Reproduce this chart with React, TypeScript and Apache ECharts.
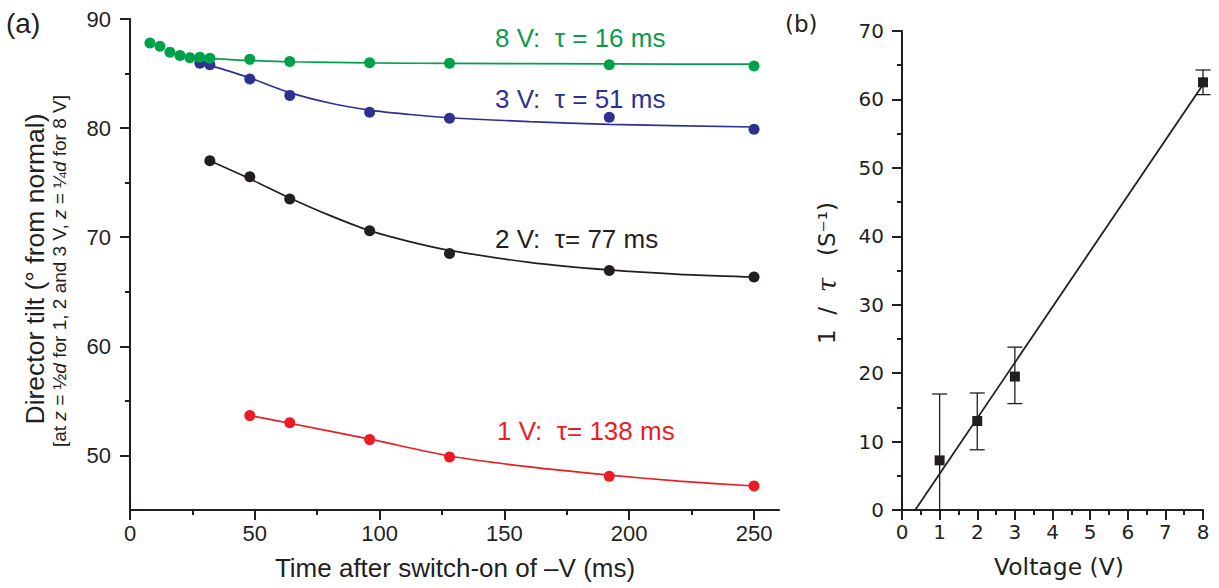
import React, { useEffect, useRef } from "react";
import * as echarts from "echarts";

// ---- Panel (a): director tilt vs time ----
const timeGreen = [8, 12, 16, 20, 24, 28, 32, 48, 64, 96, 128, 192, 250];
const tiltGreen = [87.8, 87.5, 86.95, 86.65, 86.45, 86.5, 86.4, 86.3, 86.1, 86.0, 85.95, 85.8, 85.7];
const timeBlue = [28, 32, 48, 64, 96, 128, 192, 250];
const tiltBlue = [85.95, 85.8, 84.5, 83.0, 81.45, 80.9, 81.0, 79.9];
const timeBlack = [32, 48, 64, 96, 128, 192, 250];
const tiltBlack = [77.0, 75.55, 73.5, 70.6, 68.5, 66.95, 66.35];
const timeRed = [48, 64, 96, 128, 192, 250];
const tiltRed = [53.65, 53.0, 51.45, 49.85, 48.1, 47.2];

// fitted curves
const fitTimeGreen = [28, 32, 40, 48, 64, 96, 128, 192, 250];
const fitTiltGreen = [86.55, 86.4, 86.28, 86.2, 86.08, 85.97, 85.93, 85.88, 85.86];
const fitTimeBlue = [28, 32, 40, 48, 64, 80, 96, 112, 128, 160, 192, 250];
const fitTiltBlue = [86.0, 85.75, 85.2, 84.6, 83.25, 82.3, 81.65, 81.25, 80.95, 80.6, 80.35, 80.1];
const fitTimeBlack = [32, 48, 64, 80, 96, 112, 128, 160, 192, 220, 250];
const fitTiltBlack = [77.0, 75.35, 73.6, 72.0, 70.6, 69.6, 68.8, 67.7, 67.0, 66.6, 66.35];
const fitTimeRed = [48, 64, 96, 128, 160, 192, 220, 250];
const fitTiltRed = [53.65, 52.95, 51.5, 49.95, 48.95, 48.2, 47.65, 47.2];

const xTicksA = [0, 50, 100, 150, 200, 250];
const xMinorA = [25, 75, 125, 175, 225];
const yTicksA = [50, 60, 70, 80, 90];
const yMinorA = [55, 65, 75, 85];

// ---- Panel (b): 1/tau vs voltage ----
const voltage = [1, 2, 3, 8];
const invTau = [7.25, 13.0, 19.5, 62.5];
const errLow = [0, 8.8, 15.55, 60.7];
const errHigh = [16.95, 17.1, 23.8, 64.3];
const fitVoltage = [0.35, 8.15];
const fitInvTau = [0, 63.4];

const INK = "#231f20";
const GREEN = "#00a14b";
const GREEN_TEXT = "#0c9a4c";
const BLUE = "#2e3192";
const RED = "#ec1c24";

const zip = (xs: number[], ys: number[]) => xs.map((x, i) => [x, ys[i]]);

const SANS = "Liberation Sans, Arial, sans-serif";
const VERD = "DejaVu Sans, Verdana, sans-serif";

export default function App() {
  const ref = useRef<HTMLDivElement>(null);
  useEffect(() => {
    if (!ref.current) return;
    const chart = echarts.init(ref.current, undefined, { renderer: "svg" });
    const axisLine = { show: true, lineStyle: { color: INK, width: 2 } };
    const tickStyle = { color: INK, width: 2 };
    const scatterA = (name: string, xs: number[], ys: number[], color: string, z: number) => ({
      name,
      type: "scatter",
      xAxisIndex: 0,
      yAxisIndex: 0,
      symbol: "circle",
      symbolSize: 11,
      itemStyle: { color, opacity: 1 },
      data: zip(xs, ys),
      z,
    });
    const fitA = (name: string, xs: number[], ys: number[], color: string) => ({
      name,
      type: "line",
      xAxisIndex: 0,
      yAxisIndex: 0,
      showSymbol: false,
      symbol: "none",
      smooth: 0.3,
      lineStyle: { color, width: 1.7 },
      data: zip(xs, ys),
      z: 3,
    });
    const option: any = {
      animation: false,
      backgroundColor: "#ffffff",
      grid: [
        { left: 130, top: 19, width: 649, height: 491 },
        { left: 902, top: 31, width: 301, height: 479 },
      ],
      xAxis: [
        {
          gridIndex: 0,
          type: "value",
          min: 0,
          max: 260,
          position: "bottom",
          axisLine,
          axisTick: { show: true, customValues: xTicksA, length: 10, lineStyle: tickStyle },
          axisLabel: { customValues: xTicksA, fontSize: 22, color: INK, margin: 12, fontFamily: SANS },
          splitLine: { show: false },
        },
        {
          gridIndex: 0,
          type: "value",
          min: 0,
          max: 260,
          position: "bottom",
          offset: 0,
          axisLine: { show: false },
          axisTick: { show: true, customValues: xMinorA, length: 5, lineStyle: tickStyle },
          axisLabel: { show: false },
          splitLine: { show: false },
        },
        {
          gridIndex: 1,
          type: "value",
          min: 0,
          max: 8,
          interval: 1,
          position: "bottom",
          axisLine,
          axisTick: { show: true, length: 10, lineStyle: tickStyle },
          minorTick: { show: true, splitNumber: 2, length: 5, lineStyle: tickStyle },
          axisLabel: { fontSize: 20, color: INK, margin: 12, fontFamily: VERD },
          splitLine: { show: false },
          minorSplitLine: { show: false },
        },
      ],
      yAxis: [
        {
          gridIndex: 0,
          type: "value",
          min: 45,
          max: 90,
          position: "left",
          axisLine,
          axisTick: { show: true, customValues: yTicksA, length: 10, lineStyle: tickStyle },
          axisLabel: { customValues: yTicksA, fontSize: 22, color: INK, margin: 19, fontFamily: SANS },
          splitLine: { show: false },
        },
        {
          gridIndex: 0,
          type: "value",
          min: 45,
          max: 90,
          position: "left",
          offset: 0,
          axisLine: { show: false },
          axisTick: { show: true, customValues: yMinorA, length: 5, lineStyle: tickStyle },
          axisLabel: { show: false },
          splitLine: { show: false },
        },
        {
          gridIndex: 1,
          type: "value",
          min: 0,
          max: 70,
          interval: 10,
          position: "left",
          axisLine,
          axisTick: { show: true, length: 10, lineStyle: tickStyle },
          minorTick: { show: true, splitNumber: 2, length: 5, lineStyle: tickStyle },
          axisLabel: { fontSize: 20, color: INK, margin: 18, fontFamily: VERD },
          splitLine: { show: false },
          minorSplitLine: { show: false },
        },
      ],
      series: [
        fitA("8 V fit", fitTimeGreen, fitTiltGreen, GREEN),
        fitA("3 V fit", fitTimeBlue, fitTiltBlue, BLUE),
        fitA("2 V fit", fitTimeBlack, fitTiltBlack, INK),
        fitA("1 V fit", fitTimeRed, fitTiltRed, RED),
        scatterA("1 V", timeRed, tiltRed, RED, 5),
        scatterA("2 V", timeBlack, tiltBlack, INK, 5),
        scatterA("3 V", timeBlue, tiltBlue, BLUE, 5),
        scatterA("8 V", timeGreen, tiltGreen, GREEN, 6),
        {
          name: "linear fit",
          type: "line",
          xAxisIndex: 2,
          yAxisIndex: 2,
          showSymbol: false,
          symbol: "none",
          clip: false,
          lineStyle: { color: INK, width: 1.8 },
          data: zip(fitVoltage, fitInvTau),
          z: 3,
        },
        {
          name: "error bars",
          type: "custom",
          xAxisIndex: 2,
          yAxisIndex: 2,
          clip: false,
          encode: { x: 0, y: [1, 2] },
          data: voltage.map((v, i) => [v, errLow[i], errHigh[i]]),
          renderItem: (params: any, api: any) => {
            const x = api.value(0);
            const lo = api.coord([x, api.value(1)]);
            const hi = api.coord([x, api.value(2)]);
            const w = 7.5;
            const st = { stroke: INK, lineWidth: 1.3 };
            return {
              type: "group",
              children: [
                { type: "line", shape: { x1: hi[0], y1: hi[1], x2: lo[0], y2: lo[1] }, style: st },
                { type: "line", shape: { x1: hi[0] - w, y1: hi[1], x2: hi[0] + w, y2: hi[1] }, style: st },
                { type: "line", shape: { x1: lo[0] - w, y1: lo[1], x2: lo[0] + w, y2: lo[1] }, style: st },
              ],
            };
          },
          z: 4,
        },
        {
          name: "1/tau",
          type: "scatter",
          xAxisIndex: 2,
          yAxisIndex: 2,
          symbol: "rect",
          symbolSize: 10,
          itemStyle: { color: INK, opacity: 1 },
          data: zip(voltage, invTau),
          z: 5,
        },
      ],
      graphic: [
        { type: "text", x: 6, y: 23, style: { text: "(a)", fontSize: 28, fontFamily: SANS, fill: INK, align: "left", verticalAlign: "middle" } },
        { type: "text", x: 785, y: 24, style: { text: "(b)", fontSize: 23, fontFamily: VERD, fill: INK, align: "left", verticalAlign: "middle" } },
        { type: "text", x: 495, y: 38, style: { text: "8 V:  τ = 16 ms", fontSize: 26, fontFamily: SANS, fill: GREEN_TEXT, align: "left", verticalAlign: "middle" } },
        { type: "text", x: 495, y: 99, style: { text: "3 V:  τ = 51 ms", fontSize: 26, fontFamily: SANS, fill: BLUE, align: "left", verticalAlign: "middle" } },
        { type: "text", x: 495, y: 239, style: { text: "2 V:  τ= 77 ms", fontSize: 26, fontFamily: SANS, fill: INK, align: "left", verticalAlign: "middle" } },
        { type: "text", x: 497, y: 431, style: { text: "1 V:  τ= 138 ms", fontSize: 26, fontFamily: SANS, fill: RED, align: "left", verticalAlign: "middle" } },
        { type: "text", x: 455, y: 568, style: { text: "Time after switch-on of –V (ms)", fontSize: 26, fontFamily: SANS, fill: INK, align: "center", verticalAlign: "middle" } },
        { type: "text", x: 1059, y: 567, style: { text: "Voltage (V)", fontSize: 23.5, fontFamily: VERD, fill: INK, align: "center", verticalAlign: "middle" } },
        {
          type: "text",
          x: 35,
          y: 269,
          rotation: Math.PI / 2,
          style: { text: "Director tilt (° from normal)", fontSize: 26.5, fontFamily: SANS, fill: INK, align: "center", verticalAlign: "middle" },
        },
        {
          type: "text",
          x: 59,
          y: 271,
          rotation: Math.PI / 2,
          style: {
            text: "[at {i|z} = ½{i|d} for 1, 2 and 3 V, {i|z} = ¼{i|d} for 8 V]",
            fontSize: 19,
            fontFamily: SANS,
            fill: INK,
            align: "center",
            verticalAlign: "middle",
            rich: { i: { fontStyle: "italic", fontSize: 19, fontFamily: SANS, fill: INK } },
          },
        },
        {
          type: "text",
          x: 827,
          y: 273,
          rotation: Math.PI / 2,
          style: {
            text: "1  /  {t|τ}   (S⁻¹)",
            fontSize: 23,
            fontFamily: VERD,
            fill: INK,
            align: "center",
            verticalAlign: "middle",
            rich: { t: { fontStyle: "italic", fontSize: 26, fontFamily: "DejaVu Serif, serif", fill: INK } },
          },
        },
      ],
    };
    chart.setOption(option);
    return () => chart.dispose();
  }, []);
  return (
    <div
      ref={ref}
      style={{ position: "fixed", left: 0, top: 0, width: 1219, height: 588, background: "#fff" }}
    />
  );
}
